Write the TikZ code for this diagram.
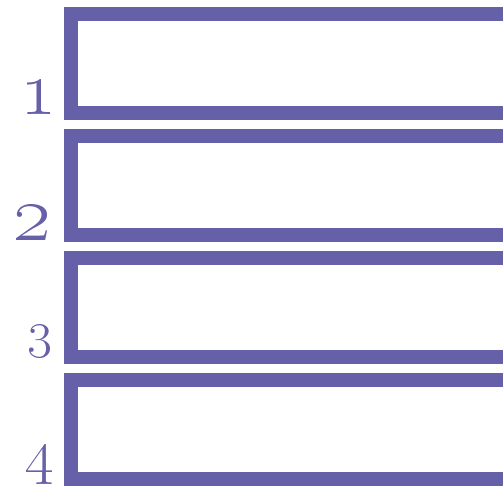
\RequirePackage{fix-cm}
\documentclass[tikz,border=0pt]{standalone}
\usepackage{tikz}
\usetikzlibrary{positioning}
\definecolor{SlotPurple}{HTML}{6560A8}

\begin{document}
\begin{tikzpicture}[x=1pt,y=-1pt,
    slot/.style={draw=SlotPurple,line width=14pt,minimum width=480pt,
      minimum height=99pt,inner sep=0pt,outer sep=0pt},
    num/.style={text=SlotPurple,inner sep=0pt}]
  \useasboundingbox (0,0) rectangle (503,487);
  \clip (0,0) rectangle (503,487);
  \foreach \i/\sz/\dy/\dx in {1/78/-2pt/14pt,2/81/-6pt/19pt,3/53/-1pt/18pt,4/63/-6pt/17pt}{
    \node[slot] (slot\i) at (311,{63.5+122*(\i-1)}) {};
    \node[num,font=\fontsize{\sz}{\sz}\selectfont,
      above left=\dy and \dx of slot\i.south west] (num\i) {\oldstylenums{\i}};
  }
\end{tikzpicture}
\end{document}
